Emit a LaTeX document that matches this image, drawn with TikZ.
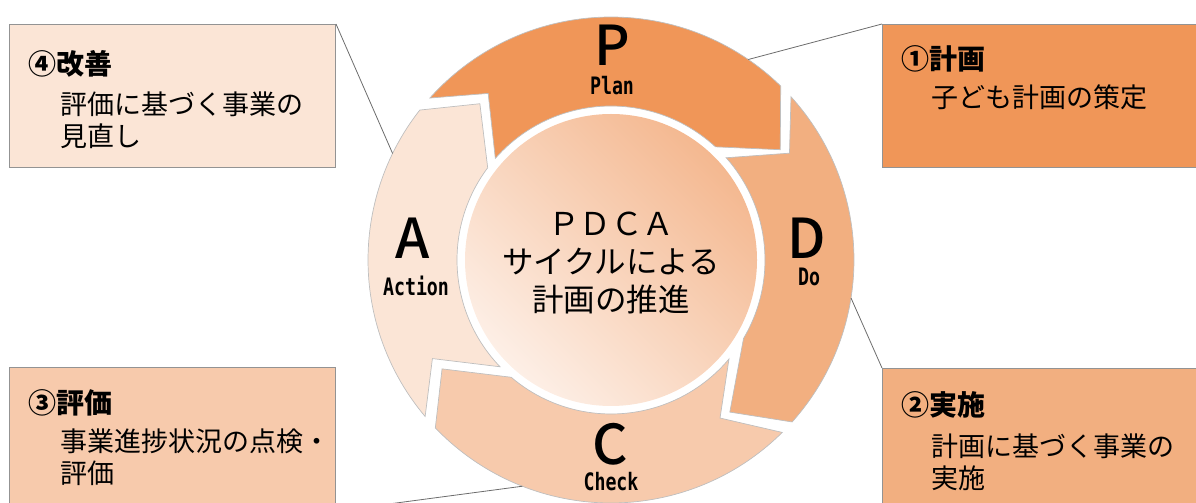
\documentclass[tikz,border=0pt]{standalone}
\usepackage{fontspec}
\usepackage{graphicx}
\setmainfont{Noto Sans CJK JP}
\newfontfamily\monofont{DejaVu Sans Mono}
\newfontfamily\letterfont{Noto Sans CJK JP Medium}

\definecolor{planFill}{RGB}{240,150,88}
\definecolor{doFill}{RGB}{242,175,128}
\definecolor{checkFill}{RGB}{247,202,172}
\definecolor{actFill}{RGB}{251,229,214}
\definecolor{discDark}{RGB}{244,184,144}
\definecolor{discLight}{RGB}{253,239,230}

\begin{document}
\begin{tikzpicture}[x=1pt, y=1pt,
    seg/.style={draw=gray!50, line width=0.7pt},
    infobox/.style={draw=gray!85, line width=1pt, anchor=north west,
        minimum width=326pt, minimum height=143pt, inner sep=0pt},
    link/.style={draw=gray!85!black, line width=0.8pt},
    boxtitle/.style={anchor=west, inner sep=0pt, font=\fontsize{28}{34}\selectfont\bfseries},
    boxbody/.style={anchor=north west, inner sep=0pt, align=left, font=\fontsize{27}{32}\selectfont},
    bigletter/.style={inner sep=0pt, font=\letterfont\fontsize{55}{55}\selectfont},
    smallword/.style={inner sep=0pt, font=\monofont\bfseries\fontsize{24}{24}\selectfont}]
    \useasboundingbox (0,0) rectangle (1196,503);
    \clip (0,0) rectangle (1196,503);

    % Four boxes in the corners.
    \node[infobox, fill=actFill]   (b4) at (9,479) {};
    \node[infobox, fill=planFill]  (b1) at (882,479) {};
    \node[infobox, fill=checkFill] (b3) at (9,136) {};
    \node[infobox, fill=doFill]    (b2) at (882,135) {};

    % Ring of four arrow segments round the centre disc.
    \begin{scope}[shift={(611,243)}]
        \shade[top color=discDark, bottom color=discLight, shading angle=-45] (0,0) circle (146);

        \filldraw[seg, fill=planFill] (138.2:243) arc[start angle=138.2, end angle=45.7, radius=243]
            -- (33.1:202) -- (47.3:154) arc[start angle=47.3, end angle=138.7, radius=154]
            -- (126.4:207) -- cycle;
        \filldraw[seg, fill=doFill] (42.2:243) arc[start angle=42.2, end angle=-41.8, radius=243]
            -- (-52:193) -- (-30.6:154) arc[start angle=-30.6, end angle=41.6, radius=154]
            -- (30.9:208) -- cycle;
        \filldraw[seg, fill=checkFill] (-45.2:243) arc[start angle=-45.2, end angle=-136.3, radius=243]
            -- (-147.2:201) -- (-130.4:154) arc[start angle=-130.4, end angle=-40, radius=154]
            -- (-55.4:192) -- cycle;
        \filldraw[seg, fill=actFill] (-139.9:243) arc[start angle=-139.9, end angle=-218.1, radius=243]
            -- (130:204) -- (143.2:154) arc[start angle=143.2, end angle=223.9, radius=154]
            -- (-151.1:204) -- cycle;

        \coordinate (endA) at (154:243);
        \coordinate (endP) at (55.6:243);
        \coordinate (endD) at (-9:243);
        \coordinate (endC) at (-111.4:243);
    \end{scope}

    \draw[link] (b4.north east) -- (endA);
    \draw[link] (b1.north west) -- (endP);
    \draw[link] (b2.north west) -- (endD);
    \draw[link] (b3.south east) -- (endC);

    % Letters on the ring.
    \node[bigletter] (letP) at (612,458) {P};
    \node[smallword] (wordP) at (612,417) {\scalebox{0.76}[1]{Plan}};
    \node[bigletter] (letD) at (807,265) {D};
    \node[smallword] (wordD) at (809,226) {\scalebox{0.76}[1]{Do}};
    \node[bigletter] (letC) at (610,59) {C};
    \node[smallword] (wordC) at (611,21) {\scalebox{0.76}[1]{Check}};
    \node[bigletter] (letA) at (413,265) {A};
    \node[smallword] (wordA) at (416,217) {\scalebox{0.76}[1]{Action}};

    \node[align=center, inner sep=0pt, font=\fontsize{31.5}{38}\selectfont] (ctr) at (611,240)
        {ＰＤＣＡ\\サイクルによる\\計画の推進};

    % Box texts.
    \node[boxtitle] (t4) at (28,439.5) {④改善};
    \node[boxbody]  (d4) at (60,411.5) {評価に基づく事業の\\見直し};
    \node[boxtitle] (t1) at (901,444) {①計画};
    \node[boxbody]  (d1) at (931,418.5) {子ども計画の策定};
    \node[boxtitle] (t3) at (28,100) {③評価};
    \node[boxbody]  (d3) at (60,74.5) {事業進捗状況の点検・\\評価};
    \node[boxtitle] (t2) at (901,98) {②実施};
    \node[boxbody]  (d2) at (931,69.5) {計画に基づく事業の\\実施};
\end{tikzpicture}
\end{document}
